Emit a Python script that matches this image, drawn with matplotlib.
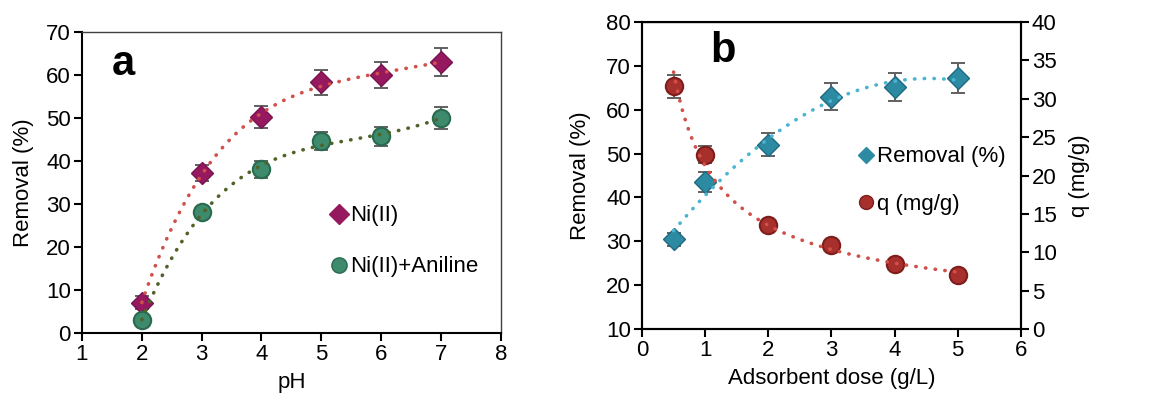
import numpy as np
import matplotlib
matplotlib.use("Agg")
import matplotlib.pyplot as plt
from matplotlib.lines import Line2D

plt.rcParams["font.family"] = ["Liberation Sans", "DejaVu Sans"]
plt.rcParams["font.size"] = 16

# -------- datos panel a --------
ph = [2, 3, 4, 5, 6, 7]
ni = [7.0, 37.2, 50.2, 58.2, 60.0, 63.0]
ni_err = [1.5, 1.8, 2.5, 2.8, 3.0, 3.3]
ni_anil = [3.0, 28.0, 38.0, 44.5, 45.7, 50.0]
ni_anil_err = [0.5, 1.0, 2.0, 2.1, 2.2, 2.5]

# -------- datos panel b --------
dose = [0.5, 1, 2, 3, 4, 5]
removal = [30.5, 43.5, 52.0, 63.0, 65.2, 67.3]
removal_err = [1.5, 2.2, 2.6, 3.1, 3.2, 3.4]
q = [31.6, 22.7, 13.5, 11.0, 8.5, 7.0]
q_err = [1.5, 1.1, 0.5, 0.4, 0.3, 0.3]

DOT = dict(linestyle=(0, (0.1, 2.6)), dash_capstyle="round", linewidth=2.6)
ERR = dict(ecolor="#606060", elinewidth=1.4, capsize=5, capthick=1.4, linestyle="none")

fig = plt.figure(figsize=(11.5, 3.99), dpi=100)

# -------- panel a --------
ax1 = fig.add_axes([0.0713, 0.1654, 0.3641, 0.7552])
xs = np.linspace(2, 7, 200)
c1 = np.polyfit(ph, ni, 4)
c2 = np.polyfit(ph, ni_anil, 4)
ax1.errorbar(ph, ni, yerr=ni_err, zorder=2, **ERR)
ax1.errorbar(ph, ni_anil, yerr=ni_anil_err, zorder=2, **ERR)
ax1.plot(ph, ni, "D", color="#96195f", markeredgecolor="#7a1450", markersize=11, zorder=3)
ax1.plot(ph, ni_anil, "o", color="#3e8a6c", markeredgecolor="#2a6a50", markeredgewidth=1.5,
         markersize=12.5, zorder=3)
ax1.plot(xs, np.polyval(c1, xs), color="#d0504a", zorder=4, **DOT)
ax1.plot(xs, np.polyval(c2, xs), color="#4f6228", zorder=4, **DOT)
ax1.set_xlim(1, 8)
ax1.set_ylim(0, 70)
ax1.set_xticks(range(1, 9))
ax1.set_yticks(range(0, 71, 10))
ax1.set_xlabel("pH", labelpad=5)
ax1.set_ylabel("Removal (%)", labelpad=9)
ax1.text(0.072, 0.855, "a", transform=ax1.transAxes, fontsize=30, fontweight="bold")
h1 = [Line2D([], [], marker="D", color="#96195f", linestyle="none", markersize=10),
      Line2D([], [], marker="o", color="#3e8a6c", markeredgecolor="#2a6a50", linestyle="none", markersize=11)]
ax1.legend(h1, ["Ni(II)", "Ni(II)+Aniline"], loc="upper left", bbox_to_anchor=(0.545, 0.49),
           frameon=False, handlelength=0.8, handletextpad=0.1, labelspacing=1.35, fontsize=16)

# -------- panel b --------
ax2 = fig.add_axes([0.5583, 0.1754, 0.3293, 0.7695])
ax3 = ax2.twinx()
xb = np.linspace(0.5, 5, 200)
c3 = np.polyfit(dose, removal, 2)
pw = np.polyfit(np.log(dose), np.log(q), 1)
ax2.errorbar(dose, removal, yerr=removal_err, zorder=2, **ERR)
ax2.plot(dose, removal, "D", color="#2c8aa2", markeredgecolor="#1f6a80", markersize=11, zorder=3)
ax2.plot(xb, np.polyval(c3, xb), color="#4bb4d0", zorder=4, **DOT)
ax3.errorbar(dose, q, yerr=q_err, zorder=2, **ERR)
ax3.plot(dose, q, "o", color="#a8302c", markeredgecolor="#7e1e1c", markeredgewidth=1.5,
         markersize=12.5, zorder=3)
ax3.plot(xb, np.exp(pw[1]) * xb ** pw[0], color="#d0504a", zorder=4, **DOT)
ax2.set_xlim(0, 6)
ax2.set_ylim(10, 80)
ax3.set_ylim(0, 40)
ax2.set_xticks(range(0, 7))
ax2.set_yticks(range(10, 81, 10))
ax3.set_yticks(range(0, 41, 5))
ax2.set_xlabel("Adsorbent dose (g/L)", labelpad=5)
ax2.set_ylabel("Removal (%)", labelpad=11)
ax3.set_ylabel("q (mg/g)", labelpad=9)
ax2.text(0.18, 0.87, "b", transform=ax2.transAxes, fontsize=30, fontweight="bold")
h2 = [Line2D([], [], marker="D", color="#2c8aa2", linestyle="none", markersize=8),
      Line2D([], [], marker="o", color="#a8302c", markeredgecolor="#7e1e1c", linestyle="none", markersize=10)]
ax2.legend(h2, ["Removal (%)", "q (mg/g)"], loc="upper left", bbox_to_anchor=(0.515, 0.66),
           frameon=False, handlelength=0.8, handletextpad=0.1, labelspacing=1.2, fontsize=16)

for ax in (ax1, ax2, ax3):
    ax.tick_params(direction="out", length=6, width=1.5, labelsize=16, pad=2)
    for s in ax.spines.values():
        s.set_linewidth(1.5)
for s in ("top", "right"):
    ax1.spines[s].set_color("#404040")
    ax1.spines[s].set_linewidth(1.0)
ax2.spines["top"].set_linewidth(1.0)
ax2.spines["top"].set_color("#404040")

fig.savefig("out.png", dpi=100)
